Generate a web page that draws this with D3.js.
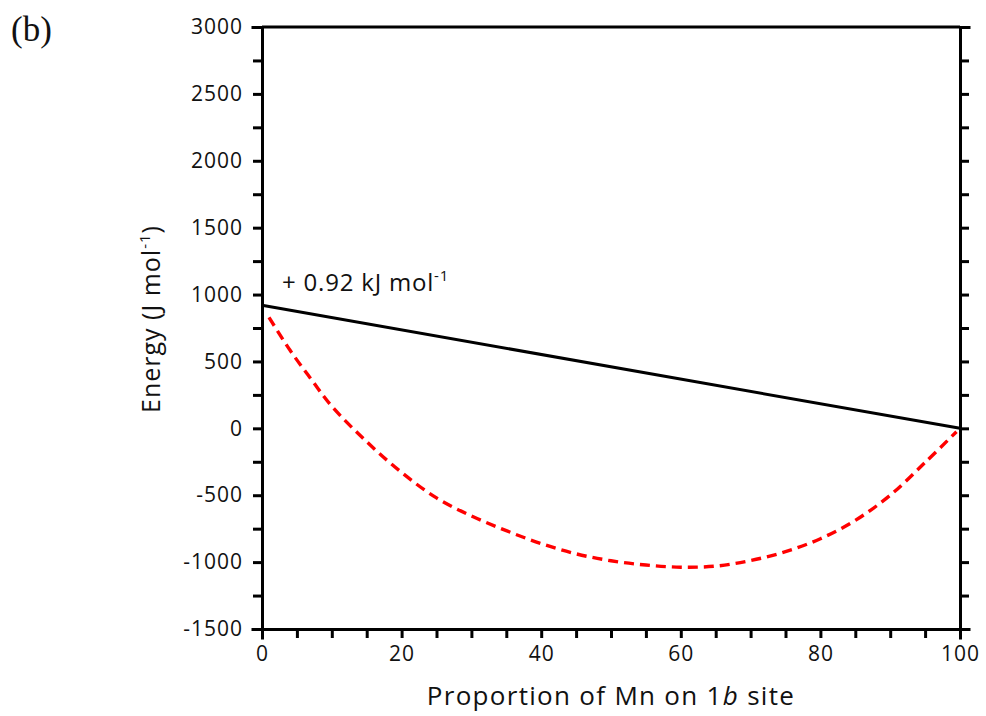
<!DOCTYPE html>
<html lang="en">
<head>
<meta charset="UTF-8">
<script src="https://cdnjs.cloudflare.com/ajax/libs/d3/7.8.5/d3.min.js"></script>
<style>
    body { margin: 0; background: #fff; }
    svg text { font-family: "Open Sans", sans-serif; fill: #111; }
    .axis path, .axis line { stroke: #000; stroke-width: 3; }
    .axis text { font-size: 21px; letter-spacing: 1px; }
</style>
</head>
<body>
<svg id="chart" width="986" height="716"></svg>
<script>
    // values
    var xTicks = [0, 20, 40, 60, 80, 100];
    var yTicks = [-1500, -1000, -500, 0, 500, 1000, 1500, 2000, 2500, 3000];

    // straight line between the two end members
    var lineX = [0, 100];
    var lineE = [920, 0];

    // dashed red curve (proportion of Mn on 1b site, energy J/mol)
    var curveX = [1, 4, 7, 10, 15, 20, 25, 30, 35, 40, 45, 50, 55, 60, 65, 70, 75, 80, 85, 90, 95, 99.5];
    var curveE = [830, 585, 370, 165, -100, -330, -520, -655, -765, -862, -938, -990, -1022, -1038, -1030, -988, -922, -825, -688, -500, -255, -25];

    var svg = d3.select("#chart");
    var mLeft = 262, mRight = 960, mTop = 27, mBottom = 629;

    var x = d3.scaleLinear().domain([0, 100]).range([mLeft, mRight]);
    var y = d3.scaleLinear().domain([-1500, 3000]).range([mBottom, mTop]);

    // frame top
    svg.append("line")
        .attr("x1", mLeft).attr("x2", mRight)
        .attr("y1", mTop).attr("y2", mTop)
        .attr("stroke", "#000").attr("stroke-width", 3);

    var yMinor = d3.range(-1500, 3001, 250);
    var xMinor = d3.range(0, 101, 5);

    var gLeft = svg.append("g").attr("class", "axis")
        .attr("transform", "translate(" + mLeft + ",0)")
        .call(d3.axisLeft(y).tickValues(yMinor).tickSize(9).tickPadding(10)
            .tickFormat(function (d) { return yTicks.indexOf(d) >= 0 ? String(d) : ""; }));

    var gRight = svg.append("g").attr("class", "axis")
        .attr("transform", "translate(" + mRight + ",0)")
        .call(d3.axisRight(y).tickValues(yMinor).tickSize(9).tickFormat(""));

    var gBottom = svg.append("g").attr("class", "axis")
        .attr("transform", "translate(0," + mBottom + ")")
        .call(d3.axisBottom(x).tickValues(xMinor).tickSize(9).tickPadding(8)
            .tickFormat(function (d) { return xTicks.indexOf(d) >= 0 ? String(d) : ""; }));

    [gLeft, gRight, gBottom].forEach(function (g) {
        g.attr("font-family", null).attr("font-size", null);
        g.select(".domain").attr("stroke-linecap", "square");
    });

    // black line
    var lineData = lineX.map(function (d, i) { return [d, lineE[i]]; });
    svg.append("path")
        .datum(lineData)
        .attr("fill", "none")
        .attr("stroke", "#000")
        .attr("stroke-width", 3)
        .attr("d", d3.line().x(function (d) { return x(d[0]); }).y(function (d) { return y(d[1]); }));

    // red dashed curve
    var curveData = curveX.map(function (d, i) { return [d, curveE[i]]; });
    svg.append("path")
        .datum(curveData)
        .attr("fill", "none")
        .attr("stroke", "#ff0000")
        .attr("stroke-width", 3.4)
        .attr("stroke-dasharray", "10,6")
        .attr("d", d3.line().curve(d3.curveCatmullRom)
            .x(function (d) { return x(d[0]); }).y(function (d) { return y(d[1]); }));

    // annotation
    var ann = svg.append("text")
        .attr("x", 282).attr("y", 291)
        .style("font-size", "24px").style("letter-spacing", "0.8px");
    ann.append("tspan").text("+ 0.92 kJ mol");
    ann.append("tspan").attr("dy", -10).style("font-size", "15px").text("-1");

    // axis titles
    var xt = svg.append("text")
        .attr("x", (mLeft + mRight) / 2).attr("y", 705)
        .attr("text-anchor", "middle")
        .style("font-size", "26px").style("letter-spacing", "1.3px");
    xt.append("tspan").text("Proportion of Mn on 1");
    xt.append("tspan").style("font-style", "italic").text("b");
    xt.append("tspan").text(" site");

    var yt = svg.append("text")
        .attr("transform", "translate(160," + 319 + ") rotate(-90)")
        .attr("text-anchor", "middle")
        .style("font-size", "25px").style("letter-spacing", "1px");
    yt.append("tspan").text("Energy (J mol");
    yt.append("tspan").attr("dy", -10).style("font-size", "15px").text("-1");
    yt.append("tspan").attr("dy", 10).text(")");

    // panel label
    svg.append("text")
        .attr("x", 11).attr("y", 41)
        .style("font-family", "'Liberation Serif', 'Times New Roman', serif")
        .style("font-size", "35px")
        .text("(b)");
</script>
</body>
</html>
